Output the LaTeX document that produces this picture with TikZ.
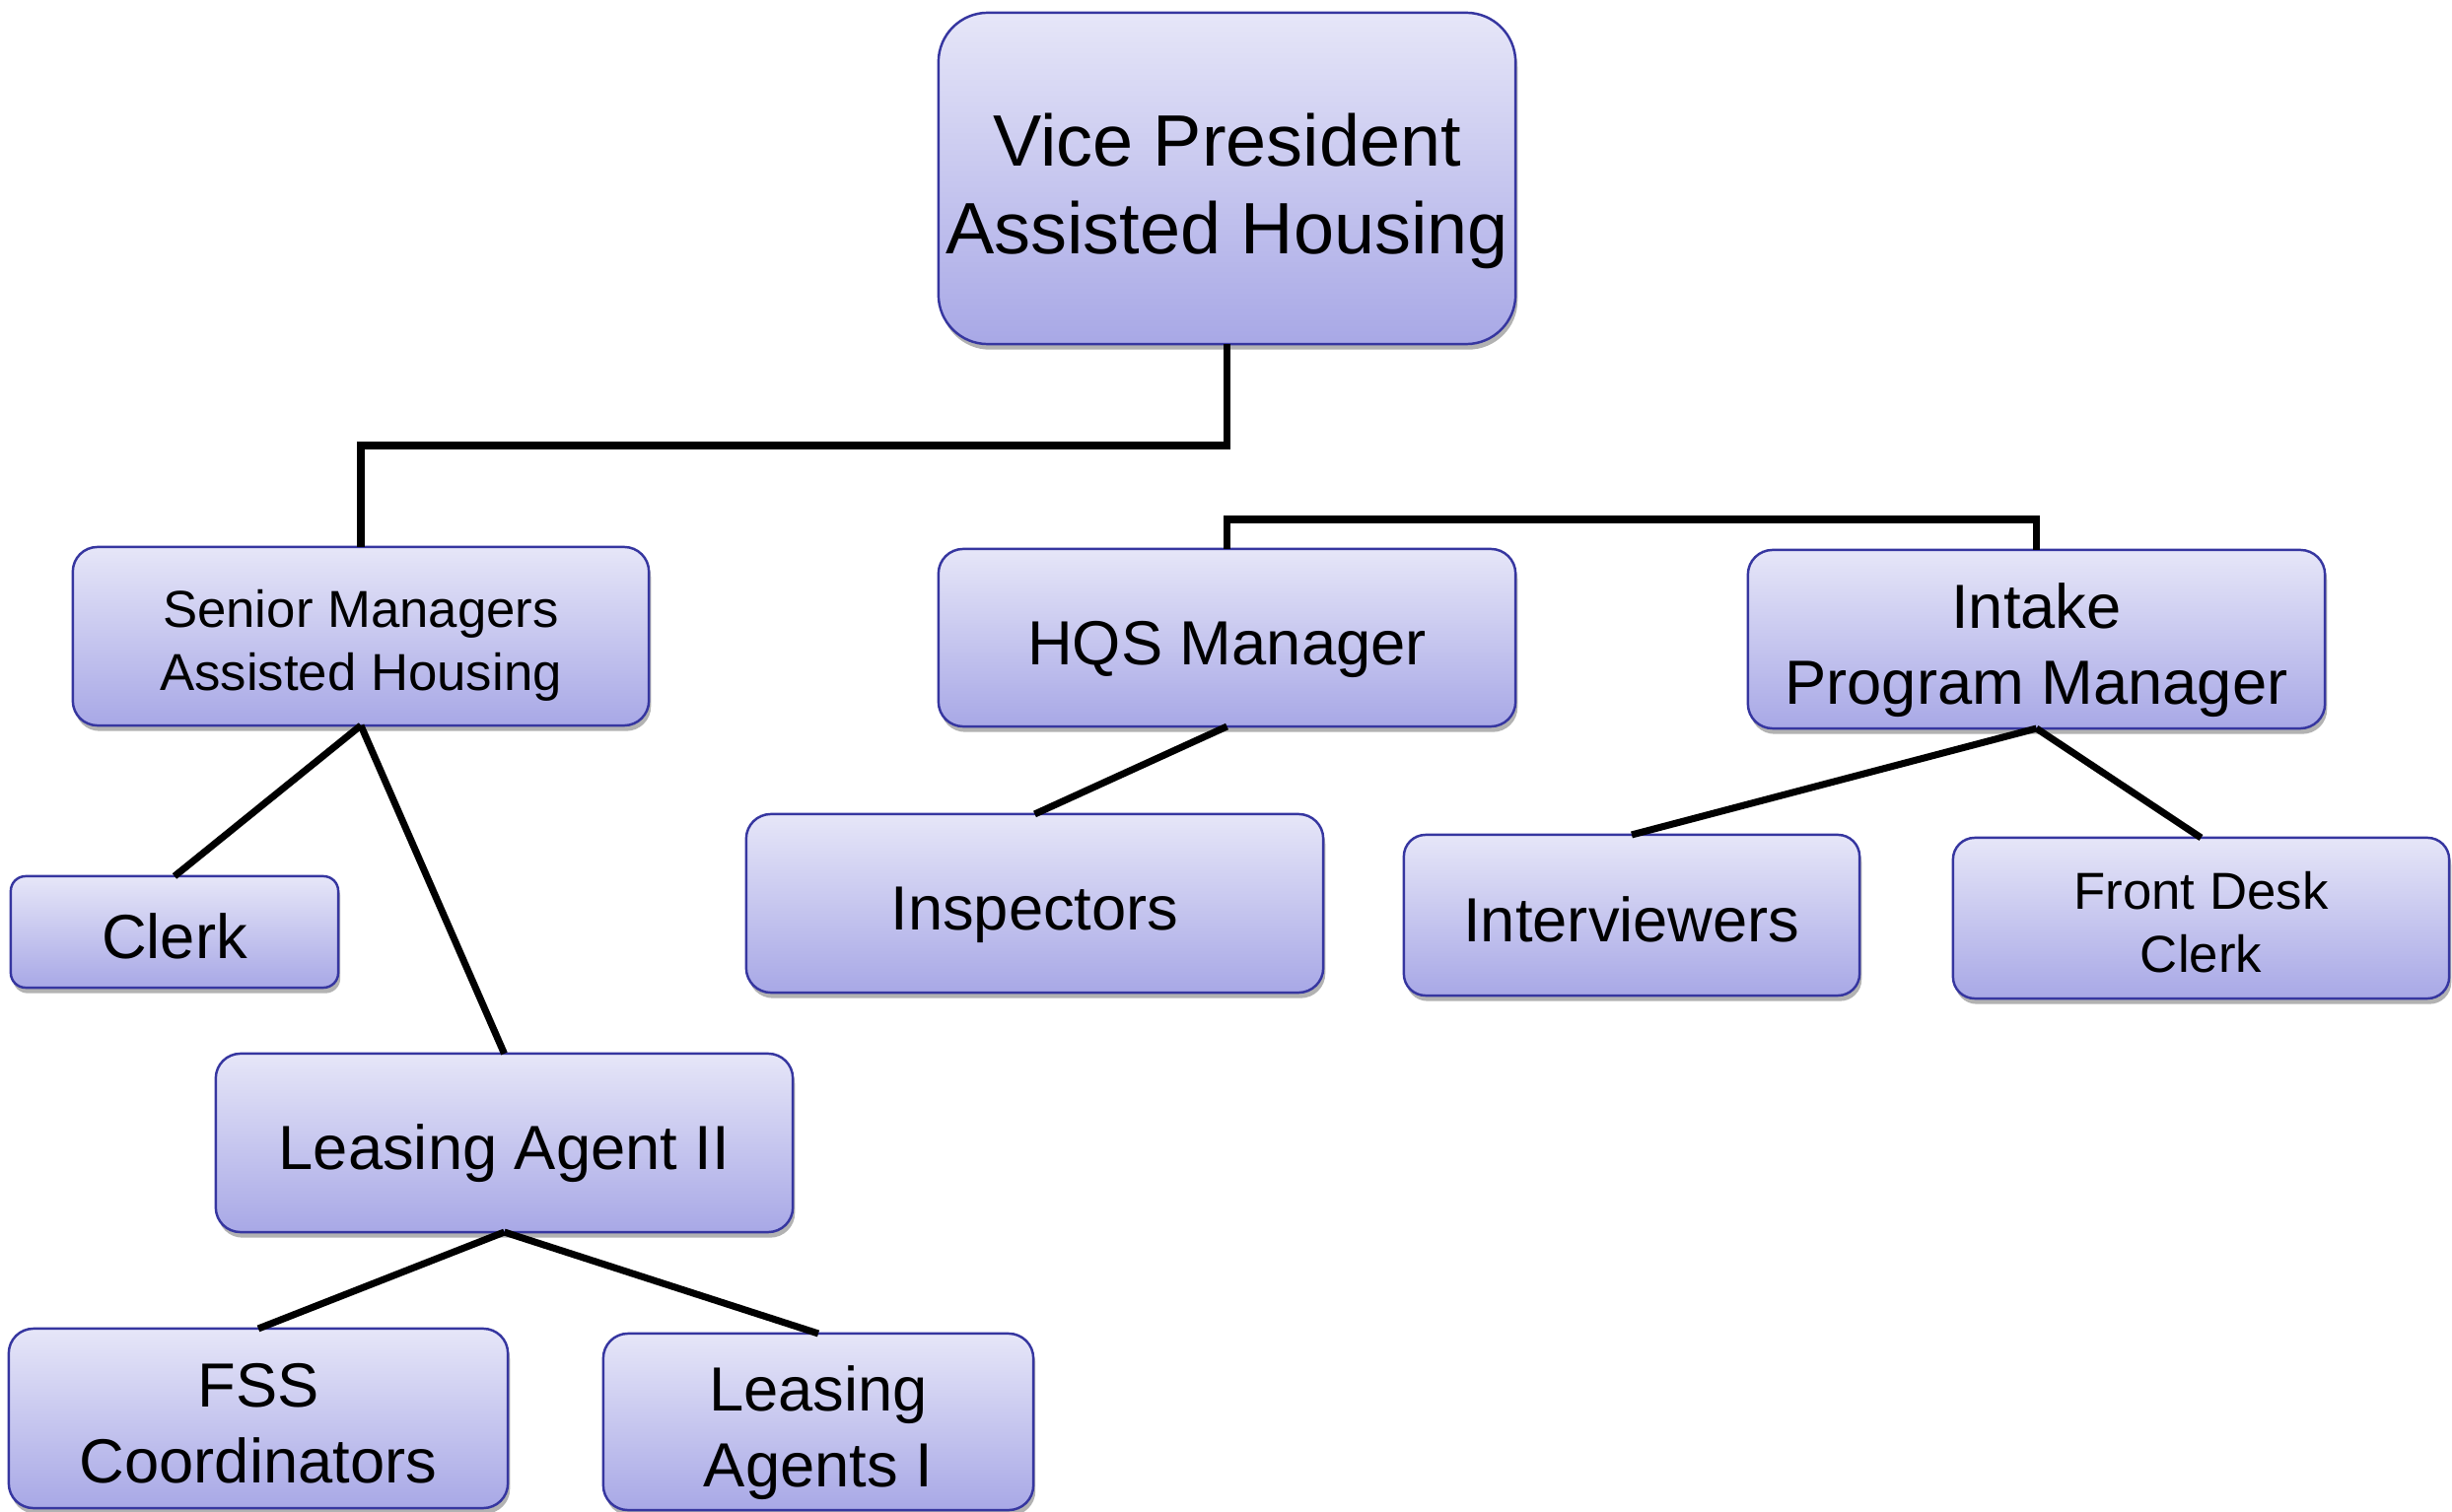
\documentclass[tikz,border=0pt]{standalone}
\usepackage{fontspec}
\setmainfont{Liberation Sans}
\usetikzlibrary{shadows}
\definecolor{vtop}{HTML}{E6E6F8}
\definecolor{vbot}{HTML}{A8A8E6}
\definecolor{vline}{HTML}{3636A0}
\newcommand\mytopstrut{\rule{0pt}{1.07em}}
\newcommand\mybotstrut{\rule[-0.21em]{0pt}{0.21em}}
\tikzset{
  orgbox/.style={draw=vline, line width=0.7pt, top color=vtop, bottom color=vbot,
    inner sep=0pt, outer sep=0pt, align=center, text=black,
    drop shadow={shadow xshift=0.6pt, shadow yshift=-1.6pt, opacity=0.3, fill=black}},
  big/.style={font=\fontsize{18}{22}\selectfont},
  mid/.style={font=\fontsize{15}{18.2}\selectfont},
  huge/.style={font=\fontsize{21}{25.3}\selectfont},
  conn/.style={line width=2pt, black}
}
\begin{document}
\begin{tikzpicture}[x=0.01cm, y=-0.01cm]
\useasboundingbox (0,0) rectangle (2487,1534);

\node[orgbox, huge, minimum width=5.85cm, minimum height=3.36cm, rounded corners=0.5cm] (vp) at (1244.5,181) {\mytopstrut Vice President\\Assisted Housing\mybotstrut};
\node[orgbox, mid, minimum width=5.84cm, minimum height=1.81cm, rounded corners=0.25cm] (sm) at (366,645.5) {\mytopstrut Senior Managers\\Assisted Housing\mybotstrut};
\node[orgbox, big, minimum width=5.85cm, minimum height=1.80cm, rounded corners=0.25cm] (hqs) at (1244.5,647) {\mytopstrut HQS Manager\mybotstrut};
\node[orgbox, big, minimum width=5.85cm, minimum height=1.81cm, rounded corners=0.25cm] (intake) at (2065.5,648.5) {\mytopstrut Intake\\Program Manager\mybotstrut};
\node[orgbox, big, minimum width=3.32cm, minimum height=1.13cm, rounded corners=0.15cm] (clerk) at (177,945.5) {\mytopstrut Clerk\mybotstrut};
\node[orgbox, big, minimum width=5.85cm, minimum height=1.81cm, rounded corners=0.25cm] (insp) at (1049.5,916.5) {\mytopstrut Inspectors\mybotstrut};
\node[orgbox, big, minimum width=4.62cm, minimum height=1.63cm, rounded corners=0.22cm] (interv) at (1655,928.5) {\mytopstrut Interviewers\mybotstrut};
\node[orgbox, mid, minimum width=5.03cm, minimum height=1.63cm, rounded corners=0.22cm] (fdc) at (2232.5,931.5) {\mytopstrut Front Desk\\Clerk\mybotstrut};
\node[orgbox, big, minimum width=5.85cm, minimum height=1.81cm, rounded corners=0.25cm] (la2) at (511.5,1159.5) {\mytopstrut Leasing Agent II\mybotstrut};
\node[orgbox, big, minimum width=5.06cm, minimum height=1.82cm, rounded corners=0.25cm] (fss) at (262,1439) {\mytopstrut FSS\\Coordinators\mybotstrut};
\node[orgbox, big, minimum width=4.36cm, minimum height=1.79cm, rounded corners=0.25cm] (la1) at (830,1442.5) {\mytopstrut Leasing\\Agents I\mybotstrut};

\coordinate (vpturn) at (1244.5,452);
\coordinate (smturn) at (366,452);
\draw[conn] (vp.south) -- (vpturn) -- (smturn) -- (sm.north);

\coordinate (hqsturn) at (1244.5,527);
\coordinate (inturn) at (2065.5,527);
\draw[conn] (hqs.north) -- (hqsturn) -- (inturn) -- (intake.north);

\draw[conn] (sm.south) -- (clerk.north);
\draw[conn] (sm.south) -- (la2.north);
\draw[conn] (hqs.south) -- (insp.north);
\draw[conn] (intake.south) -- (interv.north);
\draw[conn] (intake.south) -- (fdc.north);
\draw[conn] (la2.south) -- (fss.north);
\draw[conn] (la2.south) -- (la1.north);
\end{tikzpicture}
\end{document}
